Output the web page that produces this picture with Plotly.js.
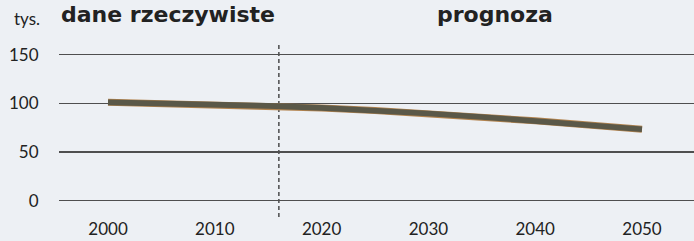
<!DOCTYPE html>
<html>
<head>
<meta charset="utf-8">
<script src="https://cdn.plot.ly/plotly-3.0.1.min.js"></script>
<style>
  html, body { margin: 0; padding: 0; background: #edf0f4; }
  #chart { width: 694px; height: 241px; }
</style>
</head>
<body>
<div id="chart"></div>
<script>
// Data
const years = [2000, 2005, 2010, 2015, 2020, 2025, 2030, 2035, 2040, 2045, 2050];
const values = [101.0, 100.0, 98.9, 97.4, 95.3, 92.7, 89.6, 86.0, 82.0, 77.8, 73.3];
const xTickVals = [2000, 2010, 2020, 2030, 2040, 2050];
const xTickText = ["2000", "2010", "2020", "2030", "2040", "2050"];
const yTickVals = [0, 50, 100, 150];
const yTickText = ["0", "50", "100", "150"];
const splitYear = 2016;
const unitLabel = "tys.";
const leftLabel = "dane rzeczywiste";
const rightLabel = "prognoza";

const traces = [
  { x: years, y: values, type: "scatter", mode: "lines",
    line: { color: "#b3844f", width: 7 }, hoverinfo: "skip", showlegend: false },
  { x: years, y: values, type: "scatter", mode: "lines",
    line: { color: "#5a5848", width: 5.6 }, showlegend: false }
];

const layout = {
  width: 694, height: 241,
  margin: { l: 59, r: 0, t: 43, b: 24, pad: 0 },
  paper_bgcolor: "#edf0f4",
  plot_bgcolor: "#edf0f4",
  font: { family: "Lato, 'Noto Sans', sans-serif", color: "#222222", size: 17 },
  showlegend: false,
  xaxis: {
    range: [1995.41, 2054.87],
    tickvals: xTickVals, ticktext: xTickText,
    showgrid: false, zeroline: false, showline: false,
    ticks: "",
    tickfont: { size: 17, color: "#222222" }
  },
  yaxis: {
    range: [-16.7, 161.9],
    tickvals: yTickVals, ticktext: yTickText,
    showgrid: true, gridcolor: "#4f4f4f", gridwidth: 1.2,
    zeroline: false, showline: false,
    ticks: "outside", ticklen: 16, tickcolor: "rgba(0,0,0,0)",
    tickfont: { size: 17, color: "#222222" }
  },
  shapes: [
    { type: "line", xref: "x", yref: "y", x0: splitYear, x1: splitYear,
      y0: -16.7, y1: 161.9, layer: "below",
      line: { color: "#222222", width: 1.2, dash: "4px,3px" } }
  ],
  annotations: [
    { text: leftLabel, xref: "paper", yref: "paper", x: 0.1717, y: 1.165,
      xanchor: "center", yanchor: "middle", showarrow: false, borderpad: 0,
      font: { family: "'DejaVu Sans', sans-serif", size: 22, color: "#222222", weight: "bold" } },
    { text: rightLabel, xref: "paper", yref: "paper", x: 0.6866, y: 1.165,
      xanchor: "center", yanchor: "middle", showarrow: false, borderpad: 0,
      font: { family: "'DejaVu Sans', sans-serif", size: 22, color: "#222222", weight: "bold" } },
    { text: unitLabel, xref: "paper", yref: "paper", x: -0.0504, y: 1.14,
      xanchor: "center", yanchor: "middle", showarrow: false,
      font: { family: "Lato, sans-serif", size: 17, color: "#222222" } }
  ]
};

Plotly.newPlot("chart", traces, layout, { displayModeBar: false, staticPlot: true });
</script>
</body>
</html>
